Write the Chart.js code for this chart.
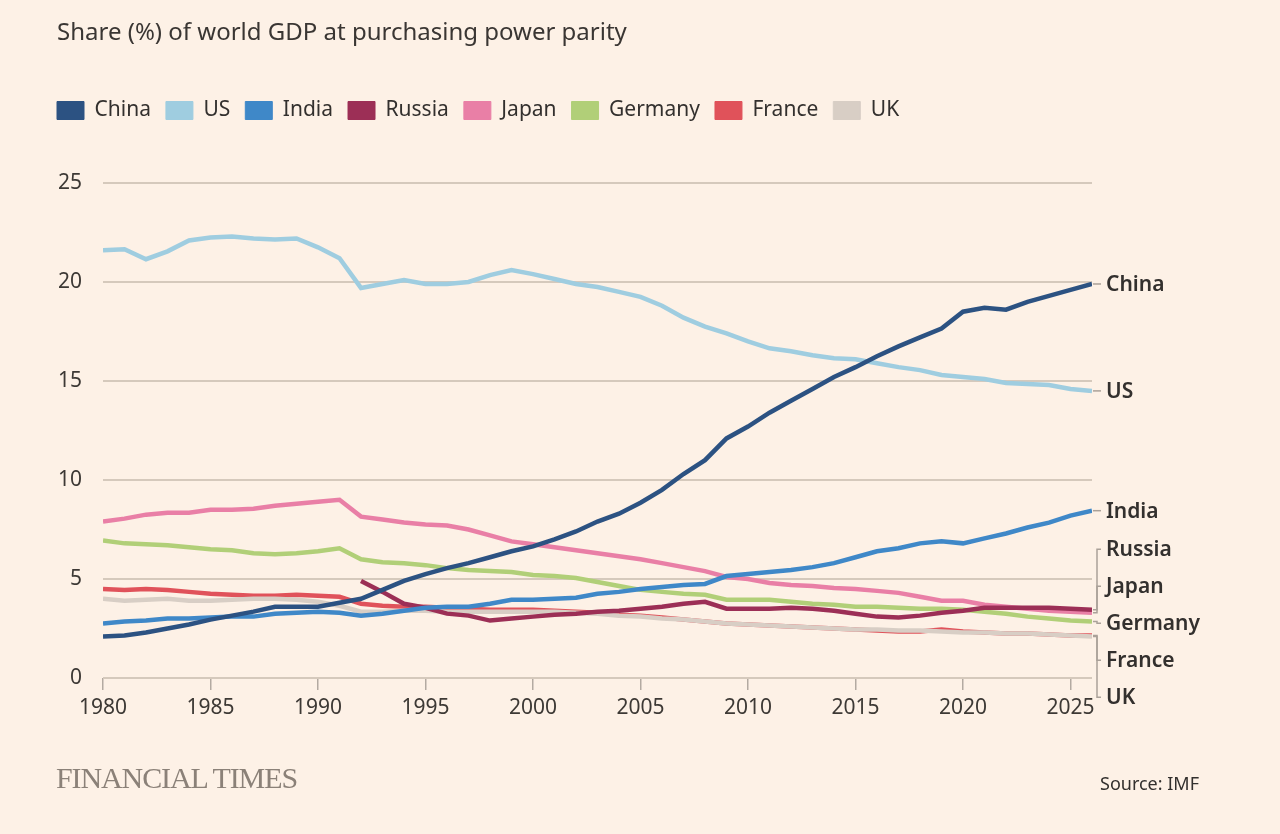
<!DOCTYPE html>
<html lang="en">
<head>
  <meta charset="UTF-8">
  <title>Share of world GDP at PPP</title>
  <script src="https://cdn.jsdelivr.net/npm/chart.js"></script>
  <style>
    html, body {
      margin: 0;
      padding: 0;
      background-color: #fdf1e6;
    }
    body {
      width: 1280px;
      height: 834px;
      position: relative;
      overflow: hidden;
      font-family: "Noto Sans", sans-serif;
      color: #33302e;
    }
    #title {
      position: absolute;
      left: 57px;
      top: 14px;
      font-size: 24px;
      color: #3a3633;
      white-space: nowrap;
    }
    #wrap {
      position: absolute;
      left: 0;
      top: 0;
      width: 1280px;
      height: 834px;
    }
    #logo {
      position: absolute;
      left: 56px;
      top: 761px;
      font-family: "Liberation Serif", "DejaVu Serif", serif;
      font-size: 30px;
      color: #8b8178;
      letter-spacing: -1.1px;
      white-space: nowrap;
    }
    #source {
      position: absolute;
      left: 1100px;
      top: 771px;
      font-size: 18px;
      color: #33302e;
    }
  </style>
</head>
<body>
<div id="wrap"><canvas id="myChart"></canvas></div>
<div id="title">Share (%) of world GDP at purchasing power parity</div>
<div id="logo">FINANCIAL TIMES</div>
<div id="source">Source: IMF</div>

<script>
  // Années
  const years = [];
  for (let y = 1980; y <= 2026; y++) years.push(y);

  const xTicks = [1980, 1985, 1990, 1995, 2000, 2005, 2010, 2015, 2020, 2025];
  const yTicks = [0, 5, 10, 15, 20, 25];

  const china = [2.1, 2.15, 2.3, 2.5, 2.7, 2.95, 3.15, 3.35, 3.6, 3.6,
    3.6, 3.8, 4.0, 4.45, 4.9, 5.25, 5.55, 5.8, 6.1, 6.4,
    6.65, 7.0, 7.4, 7.9, 8.3, 8.85, 9.5, 10.3, 11.0, 12.1,
    12.7, 13.4, 14.0, 14.6, 15.2, 15.7, 16.25, 16.75, 17.2, 17.65,
    18.5, 18.7, 18.6, 19.0, 19.3, 19.6, 19.9];

  const us = [21.6, 21.65, 21.15, 21.55, 22.1, 22.25, 22.3, 22.2, 22.15, 22.2,
    21.75, 21.2, 19.7, 19.9, 20.1, 19.9, 19.9, 20.0, 20.35, 20.6,
    20.4, 20.15, 19.9, 19.75, 19.5, 19.25, 18.8, 18.2, 17.75, 17.4,
    17.0, 16.65, 16.5, 16.3, 16.15, 16.1, 15.9, 15.7, 15.55, 15.3,
    15.2, 15.1, 14.9, 14.85, 14.8, 14.6, 14.5];

  const india = [2.75, 2.85, 2.9, 3.0, 3.0, 3.05, 3.1, 3.1, 3.25, 3.3,
    3.35, 3.3, 3.15, 3.25, 3.4, 3.55, 3.6, 3.6, 3.75, 3.95,
    3.95, 4.0, 4.05, 4.25, 4.35, 4.5, 4.6, 4.7, 4.75, 5.15,
    5.25, 5.35, 5.45, 5.6, 5.8, 6.1, 6.4, 6.55, 6.8, 6.9,
    6.8, 7.05, 7.3, 7.6, 7.85, 8.2, 8.45];

  const russia = [null, null, null, null, null, null, null, null, null, null,
    null, null, 4.9, 4.35, 3.75, 3.55, 3.25, 3.15, 2.9, 3.0,
    3.1, 3.2, 3.25, 3.35, 3.4, 3.5, 3.6, 3.75, 3.85, 3.5,
    3.5, 3.5, 3.55, 3.5, 3.4, 3.25, 3.1, 3.05, 3.15, 3.3,
    3.4, 3.55, 3.55, 3.55, 3.55, 3.5, 3.45];

  const japan = [7.9, 8.05, 8.25, 8.35, 8.35, 8.5, 8.5, 8.55, 8.7, 8.8,
    8.9, 9.0, 8.15, 8.0, 7.85, 7.75, 7.7, 7.5, 7.2, 6.9,
    6.75, 6.6, 6.45, 6.3, 6.15, 6.0, 5.8, 5.6, 5.4, 5.1,
    5.0, 4.8, 4.7, 4.65, 4.55, 4.5, 4.4, 4.3, 4.1, 3.9,
    3.9, 3.7, 3.6, 3.5, 3.4, 3.35, 3.3];

  const germany = [6.95, 6.8, 6.75, 6.7, 6.6, 6.5, 6.45, 6.3, 6.25, 6.3,
    6.4, 6.55, 6.0, 5.85, 5.8, 5.7, 5.55, 5.45, 5.4, 5.35,
    5.2, 5.15, 5.05, 4.85, 4.65, 4.45, 4.35, 4.25, 4.2, 3.95,
    3.95, 3.95, 3.85, 3.75, 3.7, 3.6, 3.6, 3.55, 3.5, 3.5,
    3.45, 3.35, 3.25, 3.1, 3.0, 2.9, 2.85];

  const france = [4.5, 4.45, 4.5, 4.45, 4.35, 4.25, 4.2, 4.15, 4.15, 4.2,
    4.15, 4.1, 3.75, 3.65, 3.6, 3.6, 3.55, 3.5, 3.45, 3.45,
    3.45, 3.4, 3.35, 3.3, 3.2, 3.15, 3.05, 2.95, 2.85, 2.75,
    2.7, 2.65, 2.6, 2.55, 2.5, 2.45, 2.4, 2.35, 2.35, 2.45,
    2.35, 2.3, 2.25, 2.25, 2.2, 2.15, 2.15];

  const uk = [4.0, 3.9, 3.95, 4.0, 3.9, 3.9, 3.95, 4.0, 4.0, 3.95,
    3.85, 3.65, 3.35, 3.35, 3.4, 3.4, 3.35, 3.35, 3.35, 3.35,
    3.35, 3.35, 3.3, 3.25, 3.15, 3.1, 3.0, 2.95, 2.85, 2.75,
    2.7, 2.65, 2.6, 2.55, 2.5, 2.45, 2.45, 2.4, 2.4, 2.35,
    2.3, 2.3, 2.25, 2.25, 2.2, 2.15, 2.1];

  const names = ['China', 'US', 'India', 'Russia', 'Japan', 'Germany', 'France', 'UK'];
  const series = [china, us, india, russia, japan, germany, france, uk];
  const colors = ['#2c5282', '#9fcde0', '#3f88c8', '#9c2f56', '#e97fa6', '#b1cf78', '#e0525a', '#d8cec5'];
  // ordre de dessin (plus petit = au-dessus)
  const drawOrder = [0, 1, 2, 3, 4, 5, 7, 6];

  const datasets = names.map((name, i) => ({
    label: name,
    data: years.map((yr, j) => ({ x: yr, y: series[i][j] })),
    borderColor: colors[i],
    backgroundColor: colors[i],
    borderWidth: 4.5,
    pointRadius: 0,
    tension: 0,
    order: drawOrder[i]
  }));

  // Étiquettes à droite, écartées pour ne pas se chevaucher
  const endLabels = {
    id: 'endLabels',
    afterDatasetsDraw(chart) {
      const ctx = chart.ctx;
      const area = chart.chartArea;
      const yScale = chart.scales.y;
      const gap = 37;
      let items = chart.data.datasets.map(ds => {
        const last = ds.data[ds.data.length - 1].y;
        return { name: ds.label, vy: yScale.getPixelForValue(last) };
      });
      items.sort((a, b) => a.vy - b.vy);

      let groups = items.map(it => ({ items: [it], sum: it.vy, start: it.vy }));
      let changed = true;
      while (changed) {
        changed = false;
        for (let i = 0; i < groups.length - 1; i++) {
          const a = groups[i], b = groups[i + 1];
          if (a.start + a.items.length * gap > b.start) {
            const its = a.items.concat(b.items);
            const sum = a.sum + b.sum;
            groups.splice(i, 2, { items: its, sum: sum, start: sum / its.length - (its.length - 1) * gap / 2 });
            changed = true;
            break;
          }
        }
      }

      ctx.save();
      ctx.font = '600 21px "Noto Sans"';
      ctx.fillStyle = '#33302e';
      ctx.textBaseline = 'middle';
      ctx.strokeStyle = '#aaa199';
      ctx.lineWidth = 1.5;
      const x0 = area.right;
      groups.forEach(g => {
        g.items.forEach((it, k) => {
          const ly = g.start + k * gap;
          ctx.beginPath();
          ctx.moveTo(x0 + 1, it.vy);
          ctx.lineTo(x0 + 5, it.vy);
          ctx.lineTo(x0 + 5, ly);
          ctx.lineTo(x0 + 9, ly);
          ctx.stroke();
          ctx.fillText(it.name, x0 + 14, ly + 1);
        });
      });
      ctx.restore();
    }
  };

  // Marge sous la légende
  const legendSpace = {
    id: 'legendSpace',
    beforeInit(chart) {
      const fit = chart.legend.fit;
      chart.legend.fit = function () {
        fit.bind(chart.legend)();
        this.height = 98;
      };
    }
  };

  const ctx = document.getElementById('myChart').getContext('2d');
  const myChart = new Chart(ctx, {
    type: 'line',
    data: { datasets: datasets },
    plugins: [legendSpace, endLabels],
    options: {
      responsive: true,
      maintainAspectRatio: false,
      animation: false,
      layout: {
        padding: { left: 42, right: 188, top: 85, bottom: 106 }
      },
      scales: {
        x: {
          type: 'linear',
          min: 1980,
          max: 2026,
          afterBuildTicks(axis) {
            axis.ticks = xTicks.map(v => ({ value: v }));
          },
          afterFit(axis) {
            axis.height = 50;
          },
          ticks: {
            color: '#3d3935',
            font: { family: 'Noto Sans', size: 21 },
            padding: 5,
            maxRotation: 0,
            callback: v => String(v)
          },
          grid: {
            drawOnChartArea: false,
            drawTicks: true,
            tickLength: 12,
            color: '#b3aaa1',
            lineWidth: 1.5
          },
          border: { display: false }
        },
        y: {
          min: 0,
          max: 25,
          afterBuildTicks(axis) {
            axis.ticks = yTicks.map(v => ({ value: v }));
          },
          afterFit(axis) {
            axis.width = 61;
          },
          ticks: {
            color: '#3d3935',
            font: { family: 'Noto Sans', size: 21 },
            padding: 21
          },
          grid: {
            color: '#d5c9bc',
            lineWidth: 2,
            drawTicks: false
          },
          border: { display: false }
        }
      },
      plugins: {
        legend: {
          display: true,
          position: 'top',
          align: 'start',
          labels: {
            color: '#33302e',
            font: { family: 'Noto Sans', size: 21 },
            boxWidth: 27,
            boxHeight: 18,
            padding: 15,
            sort: (a, b) => a.datasetIndex - b.datasetIndex,
            generateLabels(chart) {
              const items = Chart.defaults.plugins.legend.labels.generateLabels(chart);
              items.forEach(it => { it.lineWidth = 1; });
              return items;
            }
          },
          onClick: null
        },
        tooltip: { enabled: false }
      }
    }
  });
</script>
</body>
</html>
